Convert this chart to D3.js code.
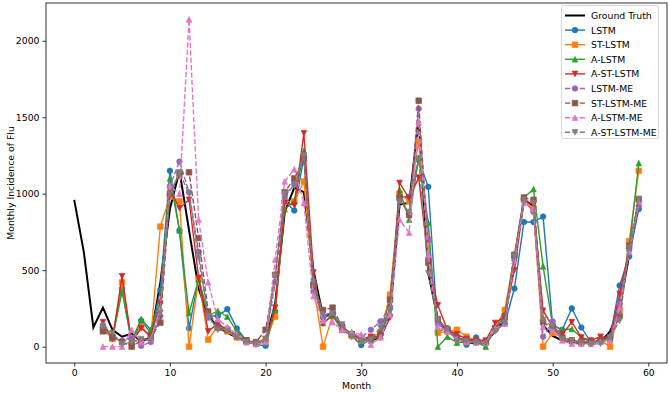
<!DOCTYPE html>
<html>
<head>
<meta charset="utf-8">
<script src="https://cdn.jsdelivr.net/npm/d3@7"></script>
<style>
  body { margin: 0; background: #fff; }
  text { font-family: "DejaVu Sans", sans-serif; fill: #000; }
</style>
</head>
<body>
<div id="chart"></div>
<script>
// ground truth covers months 0..59, model predictions start at month 3
const gtMonths = d3.range(0, 60);
const predMonths = d3.range(3, 60);

const groundTruth = [960, 620, 125, 255, 110, 65, 85, 35, 60, 420,
  900, 1150, 760, 380, 200, 130, 90, 60, 30, 20,
  40, 280, 880, 1040, 1010, 500, 200, 210, 120, 80,
  50, 40, 60, 200, 930, 940, 1480, 480, 180, 100,
  60, 30, 20, 30, 100, 180, 560, 960, 920, 140,
  70, 40, 25, 20, 30, 30, 100, 250, 600, 950];

const lstm = [130, 60, 380, 20, 170, 90, 370, 1150, 760, 120,
  450, 200, 200, 245, 118, 40, 15, 5, 230, 950,
  890, 1240, 420, 190, 210, 110, 70, 10, 50, 80,
  250, 980, 980, 1220, 1045, 100, 120, 60, 13, 60,
  20, 110, 150, 380, 815, 815, 850, 140, 110, 250,
  125, 30, 40, 60, 400, 590, 900];
const stLstm = [120, 50, 420, 30, 130, 60, 785, 980, 950, 0,
  440, 46, 130, 100, 60, 30, 20, 40, 196, 950,
  950, 1080, 400, 0, 200, 120, 70, 40, 60, 90,
  340, 1000, 950, 1340, 700, 90, 100, 110, 65, 40,
  30, 120, 240, 600, 960, 900, 0, 90, 60, 40,
  30, 30, 40, 0, 240, 690, 1150];
const aLstm = [140, 60, 360, 40, 180, 110, 300, 1100, 760, 220,
  440, 200, 235, 196, 100, 40, 20, 30, 240, 900,
  950, 1280, 430, 155, 200, 110, 95, 50, 40, 70,
  220, 1025, 830, 1235, 810, 0, 65, 25, 30, 30,
  0, 120, 200, 580, 975, 1030, 525, 140, 110, 115,
  60, 30, 40, 50, 300, 640, 1200];
const aStLstm = [160, 50, 460, 30, 120, 70, 280, 1026, 905, 960,
  450, 100, 150, 110, 70, 40, 25, 50, 255, 940,
  925, 1395, 485, 150, 210, 130, 80, 50, 65, 65,
  190, 1070, 970, 1105, 560, 270, 110, 80, 50, 40,
  40, 155, 200, 500, 950, 930, 235, 130, 80, 160,
  60, 40, 65, 60, 345, 640, 930];
const lstmMe = [140, 60, 40, 60, 5, 30, 200, 1050, 1210, 1010,
  620, 190, 120, 110, 70, 30, 20, 40, 420, 980,
  1060, 1250, 360, 200, 220, 120, 80, 60, 110, 165,
  260, 960, 870, 1555, 700, 150, 100, 60, 40, 30,
  30, 110, 180, 580, 960, 880, 65, 165, 60, 30,
  20, 25, 30, 60, 280, 640, 920];
const stLstmMe = [100, 65, 30, 0, 40, 60, 157, 1000, 1130, 1140,
  710, 230, 130, 110, 70, 40, 30, 110, 470, 1010,
  1100, 1230, 400, 240, 255, 130, 80, 50, 50, 90,
  307, 975, 860, 1608, 550, 180, 110, 60, 40, 30,
  30, 120, 200, 600, 975, 960, 160, 120, 60, 40,
  30, 30, 40, 60, 200, 660, 965];
const aLstmMe = [0, 0, 0, 110, 30, 50, 250, 1050, 1000, 2140,
  830, 420, 180, 130, 80, 30, 20, 30, 570, 1080,
  1160, 940, 330, 170, 160, 110, 90, 80, 13, 60,
  210, 830, 745, 1470, 600, 130, 100, 50, 30, 30,
  25, 120, 150, 560, 940, 900, 130, 110, 40, 20,
  20, 20, 30, 40, 250, 620, 950];
const aStLstmMe = [130, 90, 15, 30, 50, 40, 220, 1000, 1140, 1000,
  580, 200, 110, 100, 60, 30, 20, 50, 460, 1000,
  1050, 1250, 425, 210, 220, 145, 65, 35, 45, 125,
  240, 950, 880, 1230, 480, 170, 115, 35, 35, 25,
  20, 100, 155, 590, 960, 940, 175, 130, 50, 35,
  25, 15, 20, 60, 170, 645, 965];

const seriesNames = ["LSTM", "ST-LSTM", "A-LSTM", "A-ST-LSTM",
  "LSTM-ME", "ST-LSTM-ME", "A-LSTM-ME", "A-ST-LSTM-ME"];
const seriesValues = [lstm, stLstm, aLstm, aStLstm, lstmMe, stLstmMe, aLstmMe, aStLstmMe];
const colors = ["#1f77b4", "#ff7f0e", "#2ca02c", "#d62728",
  "#9467bd", "#8c564b", "#e377c2", "#7f7f7f"];
const markers = ["circle", "square", "up", "down", "circle", "square", "up", "down"];
const dashed = [false, false, false, false, true, true, true, true];
const yTicks = [0, 500, 1000, 1500, 2000];
const xTicks = [0, 10, 20, 30, 40, 50, 60];

const W = 669, H = 393;
const plot = { left: 46, right: 667, top: 3, bottom: 363 };

const svg = d3.select("#chart").append("svg")
  .attr("width", W).attr("height", H);

const x = d3.scaleLinear().domain([-2.95, 61.95]).range([plot.left, plot.right]);
const y = d3.scaleLinear().domain([-107, 2247]).range([plot.bottom, plot.top]);

// axes
const xAxis = svg.append("g")
  .attr("transform", `translate(0,${plot.bottom})`)
  .call(d3.axisBottom(x).tickValues(xTicks).tickFormat(d3.format("d")).tickSize(3.5).tickPadding(3));
const yAxis = svg.append("g")
  .attr("transform", `translate(${plot.left},0)`)
  .call(d3.axisLeft(y).tickValues(yTicks).tickFormat(d3.format("d")).tickSize(3.5).tickPadding(3));
[xAxis, yAxis].forEach(g => {
  g.select(".domain").remove();
  g.selectAll("line").attr("stroke", "#000").attr("stroke-width", 0.8);
  g.selectAll("text").attr("font-size", 9.3).attr("fill", "#000")
    .attr("font-family", "DejaVu Sans, sans-serif");
});

svg.append("text")
  .attr("x", (plot.left + plot.right) / 2).attr("y", 389)
  .attr("text-anchor", "middle").attr("font-size", 9.3)
  .text("Month");
svg.append("text")
  .attr("transform", `translate(14,${(plot.top + plot.bottom) / 2}) rotate(-90)`)
  .attr("text-anchor", "middle").attr("font-size", 9.3)
  .text("Monthly Incidence of Flu");

svg.append("clipPath").attr("id", "clip")
  .append("rect").attr("x", plot.left).attr("y", plot.top)
  .attr("width", plot.right - plot.left).attr("height", plot.bottom - plot.top);

const area = svg.append("g").attr("clip-path", "url(#clip)");

function markerPath(type, d) {
  const r = d / 2;
  if (type === "circle") return d3.symbol(d3.symbolCircle, Math.PI * r * r)();
  if (type === "square") return `M${-r},${-r}H${r}V${r}H${-r}Z`;
  if (type === "up") return `M0,${-r}L${r},${r}L${-r},${r}Z`;
  return `M0,${r}L${r},${-r}L${-r},${-r}Z`;
}

const line = d3.line().x(d => x(d[0])).y(d => y(d[1]));

// ground truth
area.append("path")
  .datum(gtMonths.map((m, i) => [m, groundTruth[i]]))
  .attr("d", line).attr("fill", "none")
  .attr("stroke", "#000").attr("stroke-width", 2);

const mSize = 5.6;
seriesValues.forEach((vals, s) => {
  const pts = predMonths.map((m, i) => [m, vals[i]]);
  const g = area.append("g");
  g.append("path").datum(pts).attr("d", line)
    .attr("fill", "none").attr("stroke", colors[s]).attr("stroke-width", 1.4)
    .attr("stroke-dasharray", dashed[s] ? "5.2,2.2" : null);
  g.selectAll("path.mk").data(pts).join("path")
    .attr("class", "mk")
    .attr("transform", d => `translate(${x(d[0])},${y(d[1])})`)
    .attr("d", markerPath(markers[s], mSize))
    .attr("fill", colors[s]).attr("stroke", colors[s]).attr("stroke-width", 0.7);
});

// frame
svg.append("rect")
  .attr("x", plot.left).attr("y", plot.top)
  .attr("width", plot.right - plot.left).attr("height", plot.bottom - plot.top)
  .attr("fill", "none").attr("stroke", "#000").attr("stroke-width", 0.8);

// legend
const lg = svg.append("g");
lg.append("rect")
  .attr("x", 561.5).attr("y", 5.5).attr("width", 97).attr("height", 133)
  .attr("rx", 2).attr("fill", "#fff").attr("fill-opacity", 0.8)
  .attr("stroke", "#ccc").attr("stroke-width", 0.8);
const legendItems = [{ name: "Ground Truth", color: "#000", marker: null, dash: false, width: 2 }]
  .concat(seriesNames.map((n, i) => ({ name: n, color: colors[i], marker: markers[i], dash: dashed[i], width: 1.4 })));
legendItems.forEach((it, i) => {
  const cy = 15.5 + i * 14.6;
  const row = lg.append("g");
  row.append("line").attr("x1", 565).attr("x2", 585).attr("y1", cy).attr("y2", cy)
    .attr("stroke", it.color).attr("stroke-width", it.width)
    .attr("stroke-dasharray", it.dash ? "5.2,2.2" : null);
  if (it.marker) {
    row.append("path").attr("transform", `translate(575,${cy})`)
      .attr("d", markerPath(it.marker, mSize))
      .attr("fill", it.color).attr("stroke", it.color).attr("stroke-width", 0.7);
  }
  row.append("text").attr("x", 591).attr("y", cy + 3.4)
    .attr("font-size", 9.3).text(it.name);
});
</script>
</body>
</html>
